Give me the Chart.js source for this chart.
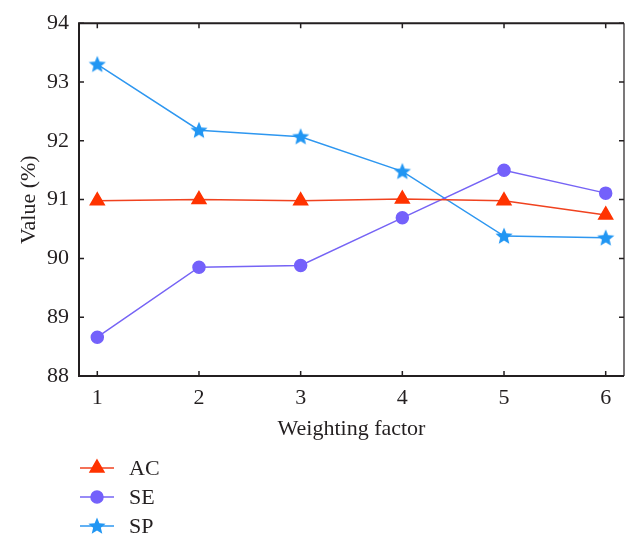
<!DOCTYPE html>
<html>
<head>
<meta charset="utf-8">
<script src="https://cdn.jsdelivr.net/npm/chart.js@4"></script>
<style>
  html, body { margin: 0; padding: 0; background: #fff; }
  #wrap { width: 639px; height: 546px; }
</style>
</head>
<body>
<div id="wrap"><canvas id="chart" width="639" height="546"></canvas></div>
<script>
// data
const weights = [1, 2, 3, 4, 5, 6];
const acValues = [90.98, 91.00, 90.98, 91.01, 90.98, 90.74];
const seValues = [88.66, 89.85, 89.88, 90.69, 91.50, 91.11];
const spValues = [93.30, 92.18, 92.07, 91.48, 90.38, 90.35];
const yTicks = [88, 89, 90, 91, 92, 93, 94];
const seriesNames = ['AC', 'SE', 'SP'];

const FONT = "'Liberation Serif', 'DejaVu Serif', serif";
const INK = '#231f20';

// filled 5-point star for SP markers
function starImage(color, r) {
  const c = document.createElement('canvas');
  const s = Math.ceil(r * 2 + 2);
  c.width = c.height = s;
  const g = c.getContext('2d');
  g.fillStyle = color;
  g.beginPath();
  for (let i = 0; i < 10; i++) {
    const rad = i % 2 ? r * 0.45 : r;
    const a = -Math.PI / 2 + i * Math.PI / 5;
    g.lineTo(s / 2 + rad * Math.cos(a), s / 2 + rad * Math.sin(a) + 0.5);
  }
  g.closePath();
  g.fill();
  return c;
}

const toXY = vals => vals.map((v, i) => ({ x: weights[i], y: v }));

// frame with inward ticks on all four sides
const framePlugin = {
  id: 'frame',
  afterDraw(chart) {
    const { ctx, chartArea: a, scales } = chart;
    ctx.save();
    ctx.strokeStyle = INK;
    ctx.lineWidth = 2;
    ctx.beginPath();
    ctx.moveTo(a.right, a.top);
    ctx.lineTo(a.left, a.top);
    ctx.lineTo(a.left, a.bottom);
    ctx.lineTo(a.right, a.bottom);
    ctx.stroke();
    ctx.lineWidth = 1.2;
    ctx.beginPath();
    ctx.moveTo(a.right, a.top);
    ctx.lineTo(a.right, a.bottom);
    ctx.stroke();
    ctx.lineWidth = 1.5;
    ctx.beginPath();
    weights.forEach(w => {
      const px = scales.x.getPixelForValue(w);
      ctx.moveTo(px, a.bottom); ctx.lineTo(px, a.bottom - 5);
      ctx.moveTo(px, a.top); ctx.lineTo(px, a.top + 5);
    });
    yTicks.forEach(t => {
      const py = scales.y.getPixelForValue(t);
      ctx.moveTo(a.left, py); ctx.lineTo(a.left + 5, py);
      ctx.moveTo(a.right, py); ctx.lineTo(a.right - 5, py);
    });
    ctx.stroke();
    ctx.restore();
  }
};

// vertical legend under the plot, bottom left
const legendPlugin = {
  id: 'sideLegend',
  afterDraw(chart) {
    const ctx = chart.ctx;
    ctx.save();
    chart.data.datasets.forEach((ds, i) => {
      const y = 468 + i * 29;
      ctx.strokeStyle = ds.borderColor;
      ctx.lineWidth = 1.5;
      ctx.beginPath();
      ctx.moveTo(80, y);
      ctx.lineTo(114, y);
      ctx.stroke();
      ctx.fillStyle = ds.pointBackgroundColor;
      ctx.strokeStyle = ds.pointBackgroundColor;
      if (Chart.helpers && Chart.helpers.drawPoint) {
        Chart.helpers.drawPoint(ctx, { pointStyle: ds.pointStyle, rotation: 0, radius: ds.pointRadius, borderWidth: 1 }, 97, y);
      }
      ctx.fillStyle = INK;
      ctx.font = '22px ' + FONT;
      ctx.textBaseline = 'middle';
      ctx.textAlign = 'left';
      ctx.fillText(ds.label, 129, y + 1);
    });
    ctx.restore();
  }
};

new Chart(document.getElementById('chart'), {
  type: 'line',
  data: {
    datasets: [
      {
        label: seriesNames[0],
        data: toXY(acValues),
        borderColor: '#f0421f',
        pointBackgroundColor: '#ff3300',
        pointBorderColor: '#ff3300',
        pointStyle: 'triangle',
        pointRadius: 8,
        borderWidth: 1.5,
      },
      {
        label: seriesNames[1],
        data: toXY(seValues),
        borderColor: '#7664f5',
        pointBackgroundColor: '#7461fb',
        pointBorderColor: '#7461fb',
        pointStyle: 'circle',
        pointRadius: 6,
        borderWidth: 1.5,
      },
      {
        label: seriesNames[2],
        data: toXY(spValues),
        borderColor: '#2e97f0',
        pointBackgroundColor: '#2196f3',
        pointBorderColor: '#2196f3',
        pointStyle: starImage('#2196f3', 9),
        pointRadius: 7,
        borderWidth: 1.5,
      },
    ],
  },
  options: {
    responsive: false,
    animation: false,
    layout: { padding: { left: 0, top: 22, right: 15, bottom: 100 } },
    plugins: {
      legend: { display: false },
      tooltip: { enabled: false },
    },
    scales: {
      x: {
        type: 'linear',
        min: 0.82,
        max: 6.18,
        grid: { display: false, tickLength: 0 },
        border: { display: false },
        afterFit: s => { s.height = 70; },
        afterBuildTicks: s => { s.ticks = weights.map(v => ({ value: v })); },
        ticks: { stepSize: 1, padding: 9, color: INK, font: { family: FONT, size: 22 } },
        title: {
          display: true,
          text: 'Weighting factor',
          color: INK,
          padding: { top: 13 },
          font: { family: FONT, size: 22 },
        },
      },
      y: {
        min: 88,
        max: 94,
        grid: { display: false, tickLength: 0 },
        border: { display: false },
        afterFit: s => { s.width = 79; },
        ticks: { stepSize: 1, padding: 10, color: INK, font: { family: FONT, size: 22 } },
        title: {
          display: true,
          text: 'Value (%)',
          color: INK,
          padding: { top: 16 },
          font: { family: FONT, size: 22 },
        },
      },
    },
  },
  plugins: [framePlugin, legendPlugin],
});
</script>
</body>
</html>
